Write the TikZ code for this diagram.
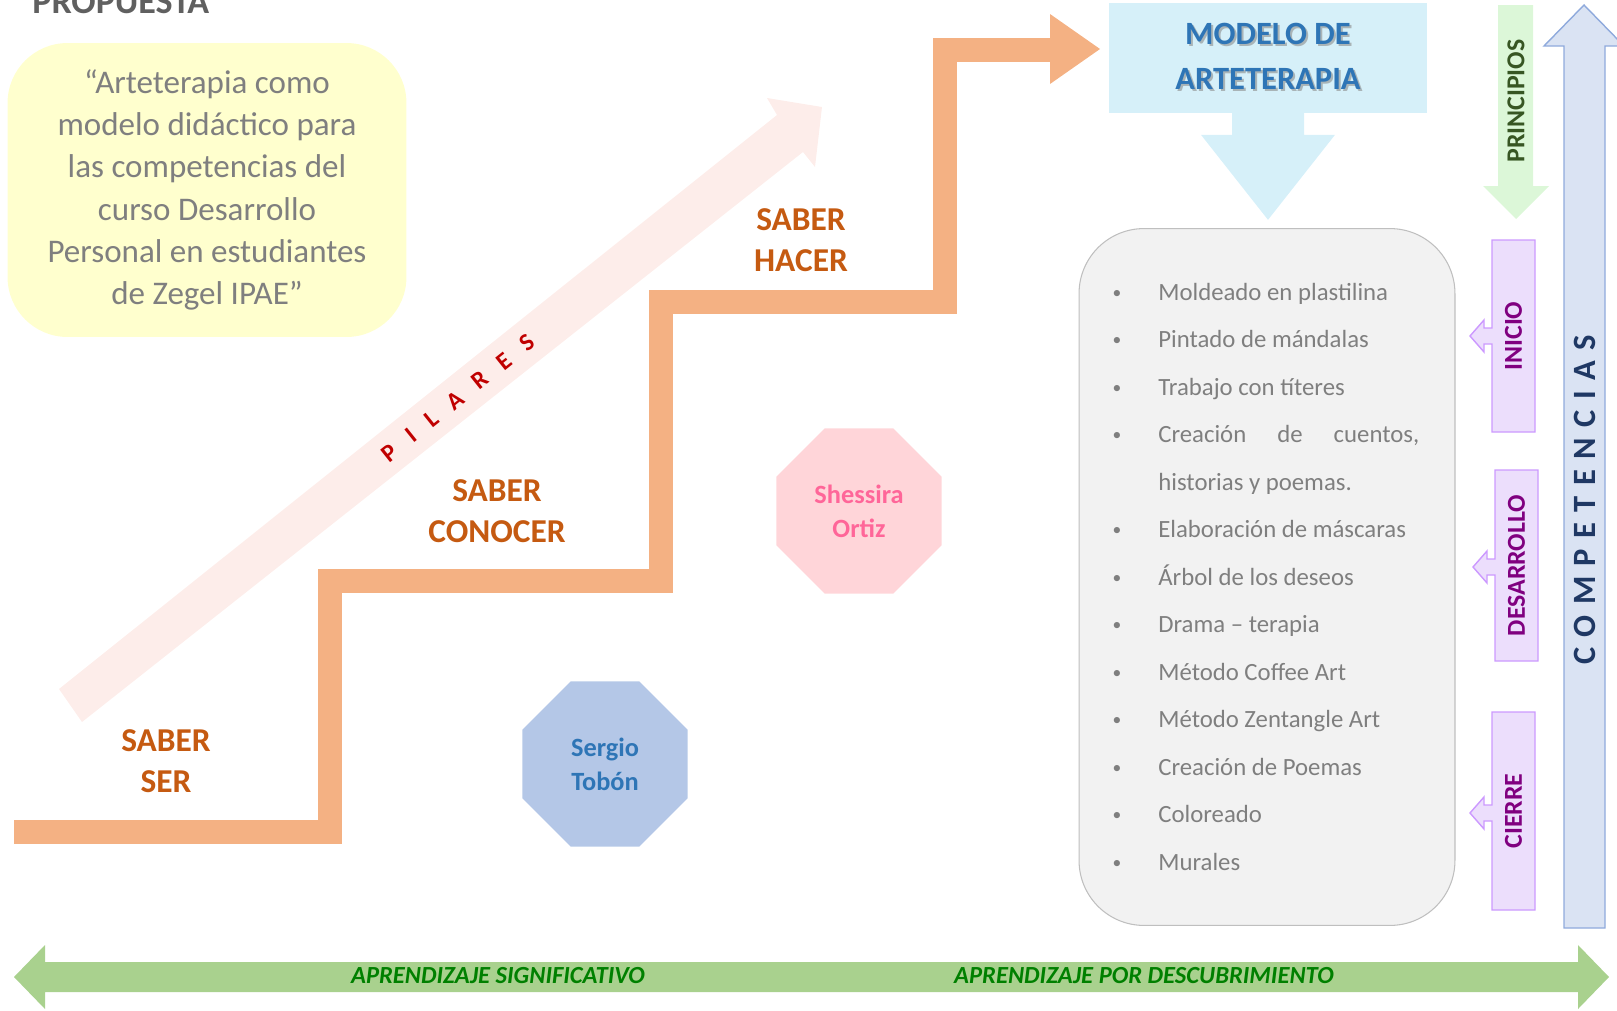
\documentclass[tikz,border=0pt]{standalone}
\usepackage{fontspec}
\setmainfont{Carlito}
\usetikzlibrary{shapes.geometric}

\definecolor{stair}{RGB}{244,177,131}
\definecolor{saberfg}{RGB}{197,90,17}
\definecolor{titlefg}{RGB}{96,96,96}
\definecolor{quotebg}{RGB}{255,255,206}
\definecolor{quotefg}{RGB}{127,127,127}
\definecolor{pilarbg}{RGB}{253,237,234}
\definecolor{pilarfg}{RGB}{192,0,0}
\definecolor{tobonbg}{RGB}{180,199,231}
\definecolor{tobonfg}{RGB}{46,117,182}
\definecolor{ortizbg}{RGB}{255,213,217}
\definecolor{ortizfg}{RGB}{255,102,153}
\definecolor{modelbg}{RGB}{214,240,249}
\definecolor{listbg}{RGB}{242,242,242}
\definecolor{listline}{RGB}{191,191,191}
\definecolor{princbg}{RGB}{220,247,216}
\definecolor{princfg}{RGB}{55,86,35}
\definecolor{compbg}{RGB}{218,227,243}
\definecolor{compline}{RGB}{143,170,220}
\definecolor{compfg}{RGB}{31,56,100}
\definecolor{stagebg}{RGB}{236,222,252}
\definecolor{stageline}{RGB}{204,153,255}
\definecolor{stagefg}{RGB}{128,0,128}
\definecolor{learnbg}{RGB}{169,209,142}
\definecolor{learnfg}{RGB}{0,128,0}

\begin{document}
\begin{tikzpicture}[x=0.02cm, y=-0.02cm, line join=miter,
    saber/.style={text=saberfg, align=center, font=\fontsize{19}{23.6}\selectfont\bfseries},
    autor/.style={regular polygon, regular polygon sides=8, minimum size=3.58cm,
      inner sep=0pt, align=center, font=\fontsize{15}{19.3}\selectfont\bfseries},
    item/.style={anchor=base west, inner sep=0pt, text=quotefg, font=\fontsize{14.1}{17}\selectfont},
    stagebox/.style={draw=stageline, fill=stagebg, line width=0.8pt},
    stagetext/.style={rotate=90, text=stagefg, font=\fontsize{14.7}{17}\selectfont\bfseries},
    learn/.style={text=learnfg, font=\fontsize{14}{17}\selectfont\bfseries\itshape}]
  \def\W{1617}
  \def\H{1011}
  \useasboundingbox (0,0) rectangle (\W,\H);
  \clip (0,0) rectangle (\W,\H);

  % propuesta
  \node[anchor=base west, inner sep=0pt, text=titlefg, font=\fontsize{20.5}{24}\selectfont\bfseries]
    (propuesta) at (32,13) {PROPUESTA};
  \node[fill=quotebg, rounded corners=1.2cm, minimum width=7.98cm, minimum height=5.88cm,
    text=quotefg, align=center, font=\fontsize{18.8}{24}\selectfont] (tesis) at (207,190)
    {“Arteterapia como\\modelo didáctico para\\las competencias del\\curso Desarrollo\\Personal en estudiantes\\de Zegel IPAE”};

  % pilares
  \fill[pilarbg] (82,722) -- (59,689) -- (777,115) -- (767,98) -- (822,107) -- (815,167) -- (803,152) -- cycle;
  \node[rotate=38.6, text=pilarfg, font=\fontsize{14}{16}\selectfont\bfseries\addfontfeature{LetterSpace=72}]
    (pilares) at (458,398) {PILARES};

  % escalera
  \draw[stair, line width=13.66pt] (14,832) -| (330,581) -| (661,302) -| (945,50) -- (1052,50);
  \fill[stair] (1050,14) -- (1100,49) -- (1050,84) -- cycle;
  \node[saber] (ser) at (166,761) {SABER\\SER};
  \node[saber] (conocer) at (497,511) {SABER\\CONOCER};
  \node[saber] (hacer) at (801,240) {SABER\\HACER};

  \node[autor, fill=tobonbg, text=tobonfg] (tobon) at (605,764) {Sergio\\Tobón};
  \node[autor, fill=ortizbg, text=ortizfg] (ortiz) at (859,511) {Shessira\\Ortiz};

  % modelo
  \node[fill=modelbg, minimum width=6.36cm, minimum height=2.22cm] (modelo) at (1268,58) {};
  \fill[modelbg] (modelo.south) ++(-36,-1) -- ++(0,22) -- ++(-31,0) -- ++(67,85)
    -- ++(67,-85) -- ++(-31,0) -- ++(0,-22) -- cycle;
  \node[text=black!45, opacity=0.6, align=center, font=\fontsize{18.5}{25.6}\selectfont\bfseries]
    (modelosombra) at (1270,58) {MODELO DE\\ARTETERAPIA};
  \node[text=tobonfg, align=center, font=\fontsize{18.5}{25.6}\selectfont\bfseries]
    (modelotexto) at (1268,56) {MODELO DE\\ARTETERAPIA};

  % actividades
  \node[draw=listline, fill=listbg, line width=0.6pt, rounded corners=1.3cm,
    minimum width=7.52cm, minimum height=13.94cm] (lista) at (1267,577) {};
  \foreach \t [count=\k from 0] in {Moldeado en plastilina, Pintado de mándalas,
      Trabajo con títeres, {\makebox[5.22cm][s]{Creación de cuentos,}}, historias y poemas.,
      Elaboración de máscaras, Árbol de los deseos, Drama – terapia, Método Coffee Art,
      Método Zentangle Art, Creación de Poemas, Coloreado, Murales}
    \node[item] (item\k) at (1158,{300+47.5*\k}) {\t};
  \foreach \k in {0,1,2,3,5,6,7,8,9,10,11,12}
    \node[item, anchor=base, font=\fontsize{10}{12}\selectfont] (dot\k) at (1117,{298+47.5*\k}) {\textbullet};

  % principios y competencias
  \fill[princbg] (1498,5) -- (1533,5) -- (1533,186) -- (1549,186) -- (1516,219) -- (1483,186) -- (1498,186) -- cycle;
  \node[rotate=90, text=princfg, font=\fontsize{14.7}{17}\selectfont\bfseries] (principios) at (1516,101) {PRINCIPIOS};
  \filldraw[fill=compbg, draw=compline, line width=0.8pt]
    (1564,928) -- (1564,46) -- (1544,46) -- (1584,5) -- (1624,46) -- (1605,46) -- (1605,928) -- cycle;
  \node[rotate=90, text=compfg, font=\fontsize{18.5}{20}\selectfont\bfseries\addfontfeature{LetterSpace=32}]
    (competencias) at (1585,500) {COMPETENCIAS};

  \foreach \nm/\lab/\l/\t/\b/\a in {inicio/INICIO/1492/240/432/336,
      desarrollo/DESARROLLO/1495/470/661/567, cierre/CIERRE/1492/712/910/813} {
    \draw[stagebox] (\l,\t) -- (\l+43,\t) -- (\l+43,\b) -- (\l,\b) -- (\l,\a+8) -- (\l-8,\a+8)
      -- (\l-8,\a+16) -- (\l-22,\a) -- (\l-8,\a-16) -- (\l-8,\a-8) -- (\l,\a-8) -- cycle;
    \node[stagetext] (\nm) at (\l+21.5,{(\t+\b)/2}) {\lab};
  }

  % aprendizaje
  \fill[learnbg] (14,977) -- (45,945) -- (45,962) -- (1578,962) -- (1578,945) -- (1609,977)
    -- (1578,1009) -- (1578,992) -- (45,992) -- (45,1009) -- cycle;
  \node[learn] (significativo) at (498,976) {APRENDIZAJE SIGNIFICATIVO};
  \node[learn] (descubrimiento) at (1144,976) {APRENDIZAJE POR DESCUBRIMIENTO};
\end{tikzpicture}
\end{document}
